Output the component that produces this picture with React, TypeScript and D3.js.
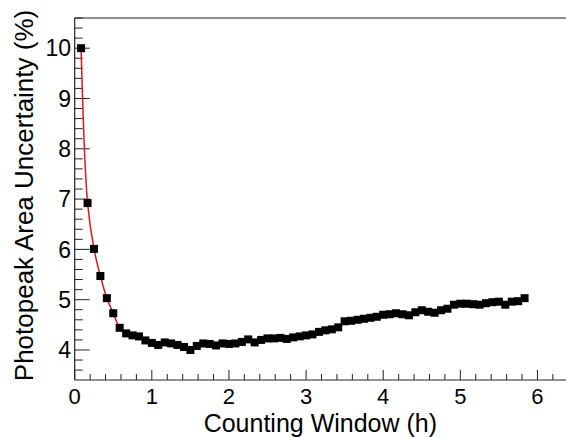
import React from 'react';
import * as d3 from 'd3';

const width = 566;
const height = 437;
const frame = { left: 74.7, right: 566, top: 18, bottom: 380 };

// counting window in hours (5 min steps) and the photopeak area uncertainty (%)
const windowHours = [
  0.083, 0.167, 0.25, 0.333, 0.417, 0.5, 0.583, 0.667, 0.75, 0.833,
  0.917, 1.0, 1.083, 1.167, 1.25, 1.333, 1.417, 1.5, 1.583, 1.667,
  1.75, 1.833, 1.917, 2.0, 2.083, 2.167, 2.25, 2.333, 2.417, 2.5,
  2.583, 2.667, 2.75, 2.833, 2.917, 3.0, 3.083, 3.167, 3.25, 3.333,
  3.417, 3.5, 3.583, 3.667, 3.75, 3.833, 3.917, 4.0, 4.083, 4.167,
  4.25, 4.333, 4.417, 4.5, 4.583, 4.667, 4.75, 4.833, 4.917, 5.0,
  5.083, 5.167, 5.25, 5.333, 5.417, 5.5, 5.583, 5.667, 5.75, 5.833,
];
const uncertainty = [
  10.0, 6.92, 6.01, 5.47, 5.03, 4.73, 4.44, 4.33, 4.29, 4.27,
  4.19, 4.14, 4.1, 4.15, 4.13, 4.1, 4.06, 4.0, 4.08, 4.13,
  4.12, 4.09, 4.13, 4.12, 4.13, 4.16, 4.21, 4.15, 4.2, 4.23,
  4.23, 4.24, 4.22, 4.25, 4.27, 4.29, 4.31, 4.36, 4.39, 4.41,
  4.45, 4.57, 4.58, 4.6, 4.62, 4.64, 4.66, 4.7, 4.71, 4.73,
  4.71, 4.69, 4.75, 4.79, 4.76, 4.74, 4.79, 4.82, 4.9, 4.92,
  4.92, 4.91, 4.9, 4.93, 4.95, 4.96, 4.9, 4.96, 4.97, 5.03,
];
const xTicks = [0, 1, 2, 3, 4, 5, 6];
const yTicks = [4, 5, 6, 7, 8, 9, 10];

const font = 'Liberation Sans, Arial, Helvetica, sans-serif';

export default function App() {
  const x = d3.scaleLinear().domain([0, 6.37]).range([frame.left, frame.right]);
  const y = d3.scaleLinear().domain([3.403, 10.6]).range([frame.bottom, frame.top]);

  const pts = windowHours.map((h, i) => [h, uncertainty[i]] as [number, number]);
  const line = d3
    .line<[number, number]>()
    .x((d) => x(d[0]))
    .y((d) => y(d[1]))
    .curve(d3.curveCatmullRom);

  const xMinor = d3.range(0, 6.37, 0.2).filter((v) => Math.abs(v - Math.round(v)) > 0.01);
  const yMinor = d3.range(3.6, 10.61, 0.2).filter((v) => Math.abs(v - Math.round(v)) > 0.01);

  return (
    <svg width={width} height={height} style={{ position: 'absolute', left: 0, top: 0 }}>
      <rect width={width} height={height} fill="white" />
      {/* frame */}
      <line x1={frame.left} x2={frame.right} y1={frame.top} y2={frame.top} stroke="#222" strokeWidth={1.2} />
      <line x1={frame.left} x2={frame.left} y1={frame.top} y2={frame.bottom} stroke="#222" strokeWidth={1.2} />
      <line x1={frame.left} x2={frame.right} y1={frame.bottom} y2={frame.bottom} stroke="#222" strokeWidth={1.2} />

      {/* x ticks */}
      {xTicks.map((t) => (
        <g key={'xt' + t}>
          <line x1={x(t)} x2={x(t)} y1={frame.bottom} y2={frame.bottom - 10} stroke="#222" />
          <text x={x(t)} y={404} textAnchor="middle" fontFamily={font} fontSize={22}>{t}</text>
        </g>
      ))}
      {xMinor.map((t) => (
        <line key={'xm' + t} x1={x(t)} x2={x(t)} y1={frame.bottom} y2={frame.bottom - 6} stroke="#222" />
      ))}

      {/* y ticks */}
      {yTicks.map((t) => (
        <g key={'yt' + t}>
          <line x1={frame.left} x2={frame.left + 15} y1={y(t)} y2={y(t)} stroke="#222" />
          <text x={71} y={y(t) + 8.2} textAnchor="end" fontFamily={font} fontSize={23}>{t}</text>
        </g>
      ))}
      {yMinor.map((t) => (
        <line key={'ym' + t.toFixed(1)} x1={frame.left} x2={frame.left + 8} y1={y(t)} y2={y(t)} stroke="#222" />
      ))}

      {/* fit curve */}
      <path d={line(pts) || ''} fill="none" stroke="#e8141b" strokeWidth={1.5} />

      {/* markers */}
      {pts.map((d, i) => (
        <rect key={i} x={x(d[0]) - 4} y={y(d[1]) - 4} width={8} height={8} fill="black" />
      ))}

      {/* axis titles */}
      <text x={(frame.left + frame.right) / 2} y={431.5} textAnchor="middle" fontFamily={font} fontSize={25}>
        Counting Window (h)
      </text>
      <text
        transform={`translate(33,195.5) rotate(-90)`}
        textAnchor="middle"
        fontFamily={font}
        fontSize={26}
      >
        Photopeak Area Uncertainty (%)
      </text>
    </svg>
  );
}
